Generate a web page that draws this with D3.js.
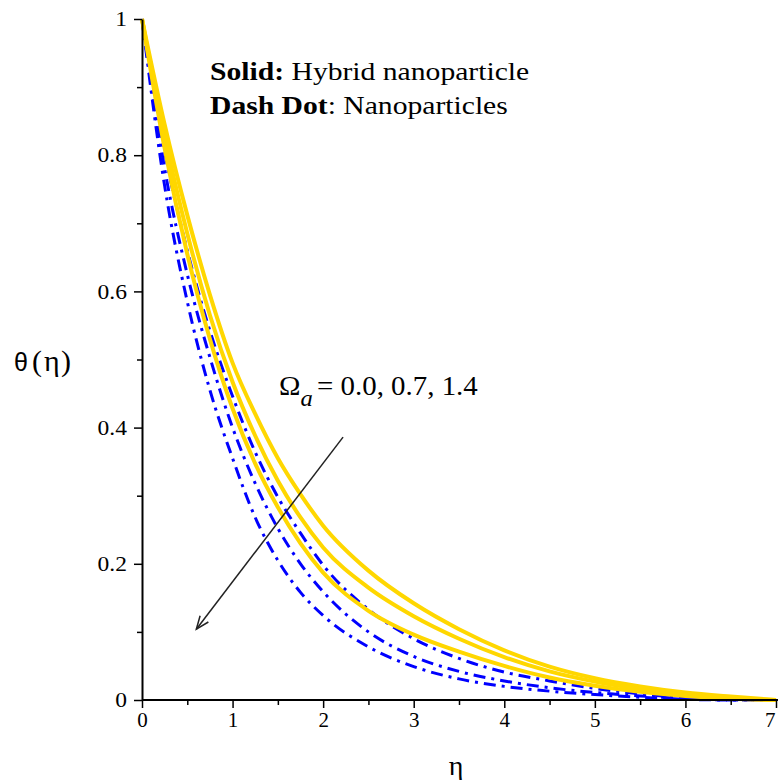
<!DOCTYPE html>
<html>
<head>
<meta charset="utf-8">
<script src="https://cdn.jsdelivr.net/npm/d3@7"></script>
<style>
  html, body { margin: 0; padding: 0; background: #fff; }
  svg { display: block; }
  text { font-family: 'Liberation Serif', 'Times New Roman', serif; fill: #000; }
</style>
</head>
<body>
<svg id="chart" width="778" height="780"></svg>
<script>
// ---- data ----
const eta = [0, 0.25, 0.5, 0.75, 1, 1.25, 1.5, 1.75, 2, 2.5, 3, 3.5, 4, 4.5, 5, 5.5, 6, 6.5, 7];

// Solid: hybrid nanoparticle, Omega_a = 0.0, 0.7, 1.4
const hybrid1 = [1, 0.845, 0.712, 0.595, 0.495, 0.420, 0.355, 0.302, 0.256, 0.190, 0.142, 0.104, 0.073, 0.049, 0.032, 0.020, 0.011, 0.005, 0];
const hybrid2 = [1, 0.828, 0.685, 0.565, 0.467, 0.388, 0.322, 0.268, 0.224, 0.165, 0.123, 0.090, 0.063, 0.042, 0.027, 0.016, 0.008, 0.003, 0];
const hybrid3 = [1, 0.810, 0.655, 0.530, 0.428, 0.347, 0.283, 0.230, 0.187, 0.131, 0.096, 0.071, 0.050, 0.033, 0.021, 0.012, 0.006, 0.002, 0];

// Dash dot: nanoparticles
const nano1 = [1, 0.805, 0.660, 0.542, 0.446, 0.364, 0.298, 0.245, 0.198, 0.133, 0.090, 0.061, 0.041, 0.028, 0.017, 0.009, 0.003, 0.001, 0];
const nano2 = [1, 0.780, 0.625, 0.503, 0.400, 0.318, 0.252, 0.200, 0.159, 0.100, 0.064, 0.042, 0.028, 0.018, 0.011, 0.006, 0.002, 0.000, 0];
const nano3 = [1, 0.755, 0.585, 0.455, 0.355, 0.268, 0.205, 0.158, 0.124, 0.078, 0.049, 0.031, 0.020, 0.013, 0.008, 0.004, 0.001, 0, 0];

const xTicks = [0, 1, 2, 3, 4, 5, 6, 7];
const yTicks = [0, 0.2, 0.4, 0.6, 0.8, 1];
const xMinor = [0.5, 1.5, 2.5, 3.5, 4.5, 5.5, 6.5];
const yMinor = [0.1, 0.3, 0.5, 0.7, 0.9];

// arrow (data coords): start -> head
const arrowFrom = [2.22, 0.386];
const arrowTo = [0.60, 0.104];

// ---- drawing ----
const SERIF = "'Liberation Serif', 'Times New Roman', serif";
const SANS = "'Liberation Sans', Arial, sans-serif";
const svg = d3.select("#chart");
const x = d3.scaleLinear().domain([0, 7]).range([142, 776]);
const y = d3.scaleLinear().domain([0, 1]).range([700, 19]);

const line = d3.line().x(d => x(d[0])).y(d => y(d[1])).curve(d3.curveMonotoneX);
const pts = arr => eta.map((e, i) => [e, arr[i]]);

const gLines = svg.append("g");
[nano1, nano2, nano3].forEach(s => {
  gLines.append("path").attr("d", line(pts(s)))
    .attr("fill", "none").attr("stroke", "#0000FF").attr("stroke-width", 3)
    .attr("stroke-dasharray", "12,6,3,6");
});
[hybrid1, hybrid2, hybrid3].forEach(s => {
  gLines.append("path").attr("d", line(pts(s)))
    .attr("fill", "none").attr("stroke", "#FFD700").attr("stroke-width", 4);
});

// axes
const xAxis = svg.append("g").attr("transform", "translate(0,700)")
  .call(d3.axisBottom(x).tickValues(xTicks).tickFormat(d3.format("d")).tickSize(8).tickSizeOuter(0).tickPadding(4));
svg.append("g").attr("transform", "translate(0,700)")
  .call(d3.axisBottom(x).tickValues(xMinor).tickFormat("").tickSize(5).tickSizeOuter(0))
  .select(".domain").remove();
const yAxis = svg.append("g").attr("transform", "translate(142,0)")
  .call(d3.axisLeft(y).tickValues(yTicks).tickFormat(d => d === 0 ? "0" : d === 1 ? "1" : d3.format(".1f")(d)).tickSize(8).tickSizeOuter(0).tickPadding(7));
svg.append("g").attr("transform", "translate(142,0)")
  .call(d3.axisLeft(y).tickValues(yMinor).tickFormat("").tickSize(5).tickSizeOuter(0))
  .select(".domain").remove();

svg.selectAll(".domain").attr("stroke", "#000").attr("stroke-width", 2);
svg.selectAll(".tick line").attr("stroke", "#000").attr("stroke-width", 1.5);
xAxis.attr("font-family", SERIF);
yAxis.attr("font-family", SERIF);
xAxis.selectAll("text").attr("font-family", SERIF).style("font-size", "21px");
yAxis.selectAll("text").attr("font-family", SERIF).style("font-size", "21px")
  .attr("transform", "scale(1.12,1)").attr("x", -15 / 1.12);
// keep last x label inside the picture
xAxis.selectAll(".tick text").filter(d => d === 7).attr("text-anchor", "end").attr("dx", -1);
// extend x axis line to right edge
xAxis.select(".domain").attr("d", "M142,0H778");

// axis labels
svg.append("text").attr("x", 456).attr("y", 775).attr("text-anchor", "middle")
  .attr("font-family", SERIF).style("font-size", "28px").text("η");
const yl = svg.append("text").attr("y", 371).attr("font-family", SERIF).style("font-size", "30px");
yl.append("tspan").attr("x", 14).attr("font-family", SANS).style("font-size", "25px").text("θ");
yl.append("tspan").attr("x", 32).text("(");
yl.append("tspan").attr("x", 44).text("η");
yl.append("tspan").attr("x", 61).text(")");

// legend text
const t1 = svg.append("text").attr("transform", "translate(210,80) scale(1.14,1)")
  .attr("font-family", SERIF).style("font-size", "26px");
t1.append("tspan").style("font-weight", "bold").text("Solid:");
t1.append("tspan").text(" Hybrid nanoparticle");
const t2 = svg.append("text").attr("transform", "translate(210,114) scale(1.14,1)")
  .attr("font-family", SERIF).style("font-size", "26px");
t2.append("tspan").style("font-weight", "bold").text("Dash Dot");
t2.append("tspan").text(": Nanoparticles");

// Omega label
const om = svg.append("text").attr("transform", "translate(279,395) scale(1.07,1)")
  .attr("font-family", SERIF).style("font-size", "27px");
om.append("tspan").text("Ω");
om.append("tspan").attr("dy", 11).style("font-style", "italic").style("font-size", "23px").text("a");
om.append("tspan").attr("dy", -11).attr("dx", 4).text("= 0.0, 0.7, 1.4");

// arrow
const ax1 = x(arrowFrom[0]), ay1 = y(arrowFrom[1]), ax2 = x(arrowTo[0]), ay2 = y(arrowTo[1]);
svg.append("line").attr("x1", ax1).attr("y1", ay1).attr("x2", ax2).attr("y2", ay2)
  .attr("stroke", "#222").attr("stroke-width", 1.5);
const ang = Math.atan2(ay2 - ay1, ax2 - ax1);
const hl = 14, ha = 0.38;
svg.append("path")
  .attr("d", `M${ax2 - hl * Math.cos(ang - ha)},${ay2 - hl * Math.sin(ang - ha)}L${ax2},${ay2}L${ax2 - hl * Math.cos(ang + ha)},${ay2 - hl * Math.sin(ang + ha)}`)
  .attr("fill", "none").attr("stroke", "#222").attr("stroke-width", 1.5);
</script>
</body>
</html>
